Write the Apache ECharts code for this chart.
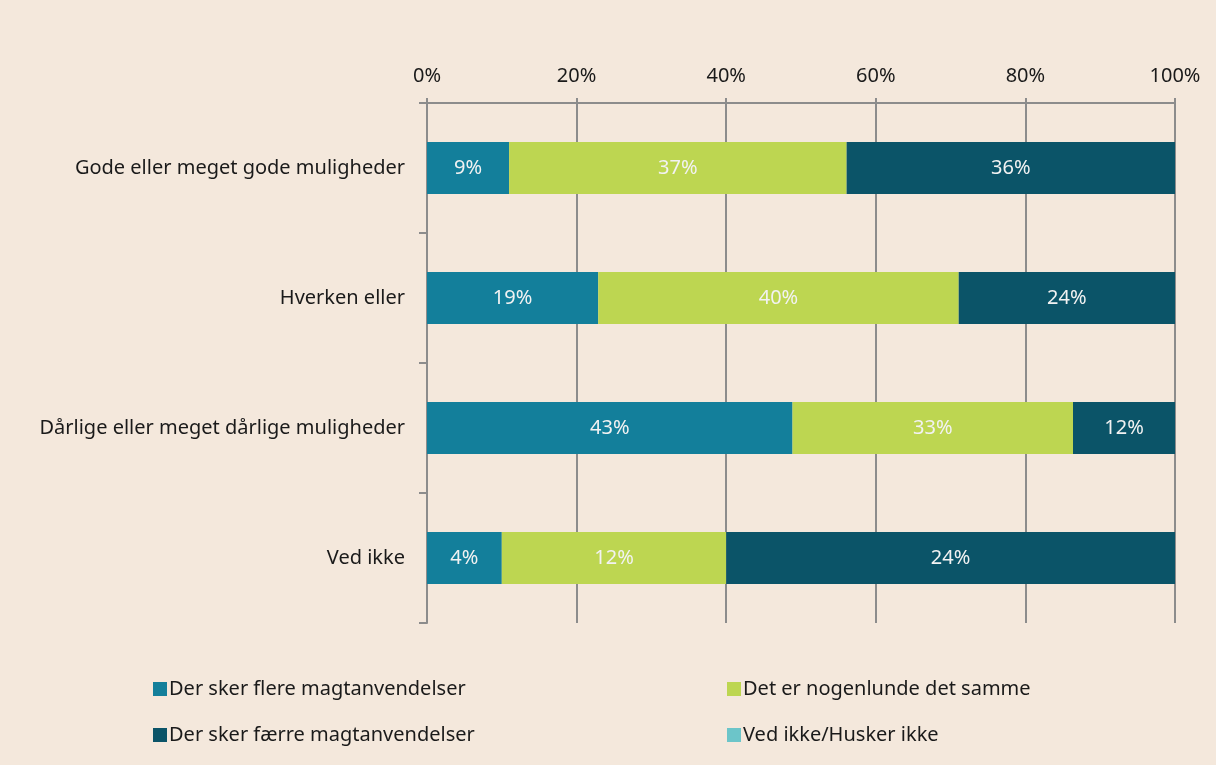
<!DOCTYPE html>
<html>
<head>
<meta charset="utf-8">
<script src="https://cdn.jsdelivr.net/npm/echarts@6/dist/echarts.min.js"></script>
<style>
  html, body { margin: 0; padding: 0; background: #f4e8dc; }
  #chart { width: 1216px; height: 765px; }
</style>
</head>
<body>
<div id="chart"></div>
<script>
const categories = ['Gode eller meget gode muligheder', 'Hverken eller', 'Dårlige eller meget dårlige muligheder', 'Ved ikke'];
const seriesNames = ['Der sker flere magtanvendelser', 'Det er nogenlunde det samme', 'Der sker færre magtanvendelser', 'Ved ikke/Husker ikke'];
const flere = [9, 19, 43, 4];
const samme = [37, 40, 33, 12];
const faerre = [36, 24, 12, 24];
const vedIkke = [null, null, null, null];
const xTicks = [0, 20, 40, 60, 80, 100];

const colors = ['#137f9b', '#bdd651', '#0b5468', '#6cc5c9'];
const font = '"Noto Sans", "Open Sans", sans-serif';
const raw = [flere, samme, faerre, vedIkke];
// 100% stacking: each bar is scaled to its own total
const totals = categories.map((_, i) => raw.reduce((s, a) => s + (a[i] || 0), 0));

const legendText = { color: '#1a1a1a', fontSize: 20, padding: [0, 0, 0, -3], fontFamily: font };
const chart = echarts.init(document.getElementById('chart'), null, { renderer: 'canvas' });
chart.setOption({
  backgroundColor: '#f4e8dc',
  textStyle: { fontFamily: font },
  grid: { left: 427, right: 41, top: 103, bottom: 142 },
  xAxis: {
    type: 'value', position: 'top', min: 0, max: 100, interval: 20,
    axisLabel: { formatter: v => xTicks.includes(v) ? v + '%' : '', color: '#1a1a1a', fontSize: 20, margin: 17, fontFamily: font },
    axisLine: { show: true, lineStyle: { color: '#8c8c8c', width: 2 } },
    axisTick: { show: true, length: 5, lineStyle: { color: '#8c8c8c', width: 2 } },
    splitLine: { show: true, lineStyle: { color: '#8c8c8c', width: 2 } }
  },
  yAxis: {
    type: 'category', inverse: true, data: categories,
    axisLabel: { color: '#1a1a1a', fontSize: 20, margin: 22, fontFamily: font },
    axisLine: { show: true, lineStyle: { color: '#8c8c8c', width: 2 } },
    axisTick: { show: true, length: 8, lineStyle: { color: '#8c8c8c', width: 2 } }
  },
  legend: [
    { data: [seriesNames[0], seriesNames[2]], orient: 'vertical', left: 148, top: 674,
      itemWidth: 14, itemHeight: 14, itemGap: 26, icon: 'rect', textStyle: legendText },
    { data: [seriesNames[1], seriesNames[3]], orient: 'vertical', left: 722, top: 674,
      itemWidth: 14, itemHeight: 14, itemGap: 26, icon: 'rect', textStyle: legendText }
  ],
  series: raw.map((arr, si) => ({
    name: seriesNames[si], type: 'bar', stack: 'total', barWidth: 52,
    itemStyle: { color: colors[si] },
    label: {
      show: true, position: 'inside', color: '#f2f2f2', fontSize: 20, fontFamily: font,
      formatter: p => arr[p.dataIndex] == null ? '' : arr[p.dataIndex] + '%'
    },
    data: arr.map((v, i) => v == null ? null : v / totals[i] * 100)
  }))
});
</script>
</body>
</html>
